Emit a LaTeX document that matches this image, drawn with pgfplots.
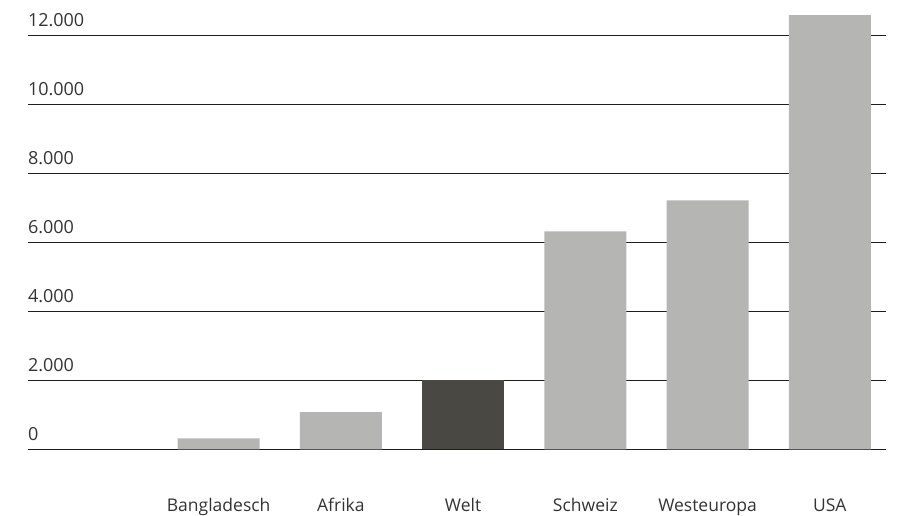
\documentclass[border=0pt]{standalone}
\usepackage{pgfplots}
\pgfplotsset{compat=1.18}
\usepackage{fontspec}
\setmainfont{Open Sans}
\definecolor{barg}{RGB}{181,181,180}
\definecolor{bard}{RGB}{74,72,67}
\definecolor{txt}{RGB}{51,51,51}
\definecolor{gridc}{RGB}{30,30,30}
\begin{document}
\begin{tikzpicture}[x=1pt,y=1pt]
\path[use as bounding box] (0,0) rectangle (900,515);
\begin{axis}[
  scale only axis, width=858pt, height=434.3pt,
  at={(28pt,65.7pt)}, anchor=south west,
  xmin=-0.56, xmax=6.46, ymin=0, ymax=12600,
  axis line style={draw=none}, major tick style={draw=none},
  ymajorgrids, grid style={line width=1.1pt, color=gridc},
  ytick={0,2000,4000,6000,8000,10000,12000},
  yticklabels={0,2.000,4.000,6.000,8.000,10.000,12.000},
  yticklabel style={anchor=base west, inner sep=0pt, outer sep=0pt, yshift=8.7pt, font=\fontsize{18}{20}\selectfont, text=txt},
  xtick={1,2,3,4,5,6},
  xticklabels={Bangladesch,Afrika,Welt,Schweiz,Westeuropa,USA},
  xticklabel style={anchor=base, inner sep=0pt, outer sep=0pt, yshift=-58pt, font=\fontsize{17.5}{20}\selectfont, text=txt},
  ybar, bar width=82pt, bar shift=0pt,
  clip=false,
]
\addplot[fill=barg, draw=none] coordinates {(1,320) (2,1076) (4,6326) (5,7221) (6,12600)};
\addplot[fill=bard, draw=none] coordinates {(3,2000)};
\end{axis}
\end{tikzpicture}
\end{document}
